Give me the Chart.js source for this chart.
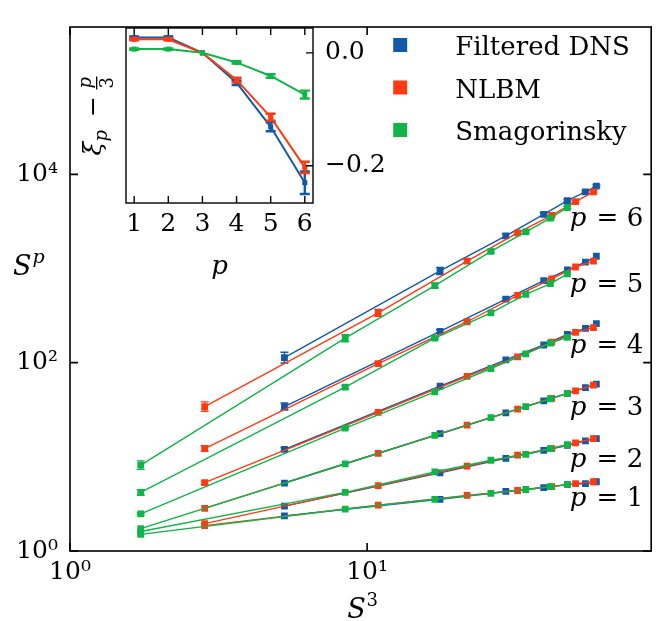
<!DOCTYPE html>
<html>
<head>
<meta charset="utf-8">
<script src="https://cdn.jsdelivr.net/npm/chart.js@4.4.1/dist/chart.umd.min.js"></script>
<style>
html, body { margin: 0; padding: 0; background: #fff; }
#wrap { position: relative; width: 656px; height: 621px; }
#wrap canvas { position: absolute; left: 0; top: 0; }
</style>
</head>
<body>
<div id="wrap">
  <canvas id="mainChart" width="656" height="621"></canvas>
  <canvas id="insetChart" width="656" height="621"></canvas>
</div>
<script>
const pOrders = [1, 2, 3, 4, 5, 6];
const seriesNames = ['Filtered DNS', 'NLBM', 'Smagorinsky'];
const seriesColors = ['#1259a8', '#ff3a12', '#10b548'];

// S^3 of each model (x axis)
const s3Dns  = [5.27, 17.6, 29.3, 39.3, 47.2, 54.3, 59.1];
const s3Nlbm = [2.84, 10.9, 21.7, 32.1, 41.8, 50.3, 57.8];
const s3Smag = [1.73, 8.44, 16.9, 26.1, 34.2, 41.4, 47.2];

// S^p, one row per order p = 1..6
const spDns = [
  [2.36, 3.54, 4.29, 4.72, 5.07, 5.19, 5.44],
  [3.0, 6.75, 9.65, 11.7, 13.2, 14.8, 15.6],
  [5.27, 17.6, 29.3, 39.3, 47.2, 54.3, 59.1],
  [12.0, 56.4, 107, 154, 200, 231, 260],
  [34.2, 215, 472, 742, 965, 1167, 1349],
  [113, 942, 2224, 3758, 5253, 6506, 7510]
];
const spNlbm = [
  [1.86, 3.07, 3.90, 4.39, 4.83, 5.19, 5.44],
  [1.95, 4.95, 7.97, 10.4, 12.25, 14.1, 15.6],
  [2.84, 10.9, 21.7, 32.1, 41.8, 50.3, 57.8],
  [5.31, 29.6, 71.6, 115, 165, 210, 236],
  [12.25, 97.7, 272, 519, 778, 1037, 1196],
  [34.2, 338, 1196, 2388, 3670, 5129, 6506]
];
const spSmag = [
  [1.50, 2.79, 3.54, 4.09, 4.50, 4.83, 5.07],
  [1.61, 4.19, 6.91, 9.20, 10.6, 12.25, 13.5],
  [1.73, 8.44, 16.9, 26.1, 34.2, 41.4, 47.2],
  [2.48, 20.2, 48.9, 86.7, 124, 161, 186],
  [4.19, 55.1, 182, 338, 531, 690, 877],
  [8.16, 182, 659, 1518, 2447, 3420, 4446]
];

// relative error on S^p
const errDns = [
  [0, 0, 0, 0, 0, 0, 0],
  [0, 0, 0, 0, 0, 0, 0],
  [0, 0, 0, 0, 0, 0, 0],
  [0.04, 0, 0, 0, 0, 0, 0],
  [0.09, 0.04, 0.03, 0, 0, 0, 0],
  [0.14, 0.09, 0.05, 0.04, 0.03, 0.03, 0.03]
];
const errNlbm = [
  [0, 0, 0, 0, 0, 0, 0],
  [0, 0, 0, 0, 0, 0, 0],
  [0, 0, 0, 0, 0, 0, 0],
  [0.04, 0.02, 0, 0, 0, 0, 0],
  [0.07, 0.04, 0.03, 0, 0, 0, 0],
  [0.12, 0.09, 0.05, 0.03, 0.03, 0.03, 0.03]
];
const errSmag = [
  [0, 0, 0, 0, 0, 0, 0],
  [0, 0, 0, 0, 0, 0, 0],
  [0, 0, 0, 0, 0, 0, 0],
  [0.03, 0.02, 0, 0, 0, 0, 0],
  [0.07, 0.04, 0.02, 0, 0, 0, 0],
  [0.11, 0.09, 0.06, 0.04, 0.03, 0.03, 0.03]
];

// inset: xi_p - p/3
const xiDns  = [0.027, 0.027, 0.0, -0.053, -0.131, -0.230];
const xiNlbm = [0.024, 0.024, 0.0, -0.048, -0.114, -0.203];
const xiSmag = [0.0066, 0.0066, 0.0, -0.017, -0.041, -0.074];
const xiErrDns  = [0.002, 0.002, 0, 0.004, 0.008, 0.02];
const xiErrNlbm = [0.002, 0.002, 0, 0.004, 0.006, 0.01];
const xiErrSmag = [0.001, 0.001, 0, 0.002, 0.003, 0.007];

const xTicks = [1, 10];
const yTicks = [1, 100, 10000];
const insetYTicks = [0, -0.2];
// where the "p = n" labels sit (baseline, in S^p units)
const pLabelY = [3.0, 7.8, 28, 127, 560, 2830];

const SERIF = '"DejaVu Serif", serif';
const SUP = { 0: '\u2070', 1: '\u00b9', 2: '\u00b2', 3: '\u00b3', 4: '\u2074' };

const series = [
  { x: s3Dns, sp: spDns, err: errDns, xi: xiDns, xiErr: xiErrDns },
  { x: s3Nlbm, sp: spNlbm, err: errNlbm, xi: xiNlbm, xiErr: xiErrNlbm },
  { x: s3Smag, sp: spSmag, err: errSmag, xi: xiSmag, xiErr: xiErrSmag }
];

// error bars drawn right after each dataset
const errorBars = {
  id: 'errorBars',
  afterDatasetDraw(chart, args, opts) {
    const ds = chart.data.datasets[args.index];
    if (!ds.errs) return;
    const ys = chart.scales.y;
    const ctx = chart.ctx;
    ctx.save();
    ctx.strokeStyle = ds.borderColor;
    ctx.lineWidth = opts.width;
    args.meta.data.forEach((pt, i) => {
      const e = ds.errs[i];
      if (!e) return;
      const v = ds.data[i].y;
      const y0 = ys.getPixelForValue(opts.log ? v / (1 + e) : v - e);
      const y1 = ys.getPixelForValue(opts.log ? v * (1 + e) : v + e);
      ctx.beginPath();
      ctx.moveTo(pt.x, y0); ctx.lineTo(pt.x, y1);
      ctx.moveTo(pt.x - opts.cap, y0); ctx.lineTo(pt.x + opts.cap, y0);
      ctx.moveTo(pt.x - opts.cap, y1); ctx.lineTo(pt.x + opts.cap, y1);
      ctx.stroke();
    });
    ctx.restore();
  }
};

// box around the plot and inward ticks, matplotlib style
const frame = {
  id: 'frame',
  afterDraw(chart, args, opts) {
    const { ctx, chartArea: a, scales } = chart;
    const L = opts.len;
    ctx.save();
    ctx.strokeStyle = '#000';
    ctx.lineWidth = opts.lw;
    ctx.strokeRect(a.left, a.top, a.right - a.left, a.bottom - a.top);
    ctx.beginPath();
    scales.x.ticks.forEach(t => {
      const px = scales.x.getPixelForValue(t.value);
      ctx.moveTo(px, a.bottom); ctx.lineTo(px, a.bottom - L);
      if (opts.top) { ctx.moveTo(px, a.top); ctx.lineTo(px, a.top + L); }
    });
    scales.y.ticks.forEach(t => {
      const py = scales.y.getPixelForValue(t.value);
      if (opts.left) { ctx.moveTo(a.left, py); ctx.lineTo(a.left + L, py); }
      if (opts.right) { ctx.moveTo(a.right, py); ctx.lineTo(a.right - L, py); }
    });
    ctx.stroke();
    ctx.restore();
  }
};

function drawRuns(ctx, x, y, runs) {
  runs.forEach(r => {
    ctx.font = r.font;
    ctx.fillText(r.text, x, y + (r.dy || 0));
    x += ctx.measureText(r.text).width + (r.gap || 0);
  });
  return x;
}
function runsWidth(ctx, runs) {
  let w = 0;
  runs.forEach(r => { ctx.font = r.font; w += ctx.measureText(r.text).width + (r.gap || 0); });
  return w;
}

const mainText = {
  id: 'mainText',
  afterDraw(chart) {
    const { ctx, chartArea: a, scales } = chart;
    ctx.save();
    ctx.fillStyle = '#000';
    ctx.textBaseline = 'alphabetic';

    // legend
    seriesNames.forEach((name, i) => {
      const cy = 45 + i * 42.5;
      ctx.fillStyle = seriesColors[i];
      ctx.fillRect(a.right - 258, cy - 7, 14, 14);
      ctx.fillStyle = '#000';
      ctx.font = '26px ' + SERIF;
      ctx.fillText(name, a.right - 196, cy + 10);
    });

    // p = n labels
    pOrders.forEach((p, k) => {
      const runs = [
        { text: 'p', font: 'italic 26px ' + SERIF, gap: 2 },
        { text: ' = ' + p, font: '26px ' + SERIF }
      ];
      const w = runsWidth(ctx, runs);
      drawRuns(ctx, a.right - 8 - w, scales.y.getPixelForValue(pLabelY[k]), runs);
    });

    // axis titles
    const xt = [
      { text: 'S', font: 'italic 27px ' + SERIF, gap: 1 },
      { text: '3', font: '18px ' + SERIF, dy: -12 }
    ];
    drawRuns(ctx, (a.left + a.right) / 2 + 2 - runsWidth(ctx, xt) / 2, 618, xt);
    drawRuns(ctx, 13, 275, [
      { text: 'S', font: 'italic 27px ' + SERIF, gap: 1 },
      { text: 'p', font: 'italic 19px ' + SERIF, dy: -12 }
    ]);
    ctx.restore();
  }
};

const insetText = {
  id: 'insetText',
  afterDraw(chart) {
    const { ctx, chartArea: a } = chart;
    ctx.save();
    ctx.fillStyle = '#000';
    ctx.textBaseline = 'alphabetic';
    ctx.font = 'italic 26px ' + SERIF;
    const w = ctx.measureText('p').width;
    ctx.fillText('p', (a.left + a.right) / 2 - w / 2, a.bottom + 71);

    // rotated y title: xi_p - p/3
    ctx.translate(a.left - 25, (a.top + a.bottom) / 2 + 2);
    ctx.rotate(-Math.PI / 2);
    ctx.font = 'italic 25px ' + SERIF;
    ctx.fillText('\u03be', -38, 0);
    ctx.font = 'italic 18px ' + SERIF;
    ctx.fillText('p', -24, 6);
    ctx.font = '25px ' + SERIF;
    const mw = ctx.measureText('\u2212').width;
    ctx.fillText('\u2212', 11 - mw / 2, 0);
    ctx.fillRect(28, -5, 13, 1.3);
    ctx.font = 'italic 18px ' + SERIF;
    ctx.fillText('p', 29, -10);
    ctx.font = '18px ' + SERIF;
    ctx.fillText('3', 29, 12);
    ctx.restore();
  }
};

// main log-log panel
const mainSets = [];
pOrders.forEach((p, k) => {
  series.forEach((s, j) => {
    mainSets.push({
      label: seriesNames[j] + ' p=' + p,
      data: s.x.map((x, i) => ({ x: x, y: s.sp[k][i] })),
      errs: s.err[k],
      borderColor: seriesColors[j],
      backgroundColor: seriesColors[j],
      borderWidth: 1.4,
      pointStyle: 'rect',
      pointRadius: 4.8,
      pointBorderWidth: 0,
      tension: 0,
      order: 3 - j
    });
  });
});

new Chart(document.getElementById('mainChart'), {
  type: 'line',
  data: { datasets: mainSets },
  options: {
    responsive: false,
    animation: false,
    devicePixelRatio: 1,
    layout: { padding: { top: 14, right: 3, left: 0, bottom: 0 } },
    scales: {
      x: {
        type: 'logarithmic', min: 1, max: 90.4,
        afterBuildTicks: sc => { sc.ticks = xTicks.map(v => ({ value: v })); },
        afterFit: sc => { sc.height = 70; },
        grid: { display: false, drawTicks: false },
        border: { display: false },
        ticks: {
          callback: v => '10' + SUP[Math.round(Math.log10(v))],
          font: { family: SERIF, size: 25 }, color: '#000',
          padding: 6, maxRotation: 0, autoSkip: false
        }
      },
      y: {
        type: 'logarithmic', min: 1, max: 3.67e5,
        afterBuildTicks: sc => { sc.ticks = yTicks.map(v => ({ value: v })); },
        afterFit: sc => { sc.width = 70; },
        grid: { display: false, drawTicks: false },
        border: { display: false },
        ticks: {
          callback: v => '10' + SUP[Math.round(Math.log10(v))],
          font: { family: SERIF, size: 25 }, color: '#000',
          padding: 12, autoSkip: false
        }
      }
    },
    plugins: {
      legend: { display: false },
      tooltip: { enabled: false },
      errorBars: { log: true, cap: 4, width: 1.4 },
      frame: { lw: 1.6, len: 8, top: true, left: true, right: true }
    }
  },
  plugins: [errorBars, frame, mainText]
});

// inset: exponents
new Chart(document.getElementById('insetChart'), {
  type: 'line',
  data: {
    datasets: series.map((s, j) => ({
      label: seriesNames[j],
      data: pOrders.map((p, i) => ({ x: p, y: s.xi[i] })),
      errs: s.xiErr,
      borderColor: seriesColors[j],
      backgroundColor: seriesColors[j],
      borderWidth: 2,
      pointStyle: 'rect',
      pointRadius: 3.6,
      pointBorderWidth: 0,
      tension: 0,
      order: 3 - j
    }))
  },
  options: {
    responsive: false,
    animation: false,
    devicePixelRatio: 1,
    layout: { padding: { left: 126, top: 28, right: 263, bottom: 378 } },
    scales: {
      x: {
        type: 'linear', min: 0.76, max: 6.24,
        afterBuildTicks: sc => { sc.ticks = pOrders.map(v => ({ value: v })); },
        afterFit: sc => { sc.height = 40; },
        grid: { display: false, drawTicks: false },
        border: { display: false },
        ticks: {
          font: { family: SERIF, size: 25 }, color: '#000',
          padding: 6, maxRotation: 0, autoSkip: false
        }
      },
      y: {
        type: 'linear', position: 'right', min: -0.266, max: 0.044,
        afterBuildTicks: sc => { sc.ticks = insetYTicks.map(v => ({ value: v })); },
        afterFit: sc => { sc.width = 80; },
        grid: { display: false, drawTicks: false },
        border: { display: false },
        ticks: {
          callback: v => (v < 0 ? '\u2212' : '') + Math.abs(v).toFixed(1),
          font: { family: SERIF, size: 25 }, color: '#000',
          padding: 12, autoSkip: false
        }
      }
    },
    plugins: {
      legend: { display: false },
      tooltip: { enabled: false },
      errorBars: { log: false, cap: 5, width: 2.4 },
      frame: { lw: 1.4, len: 7, top: true, left: false, right: true }
    }
  },
  plugins: [errorBars, frame, insetText]
});
</script>
</body>
</html>
